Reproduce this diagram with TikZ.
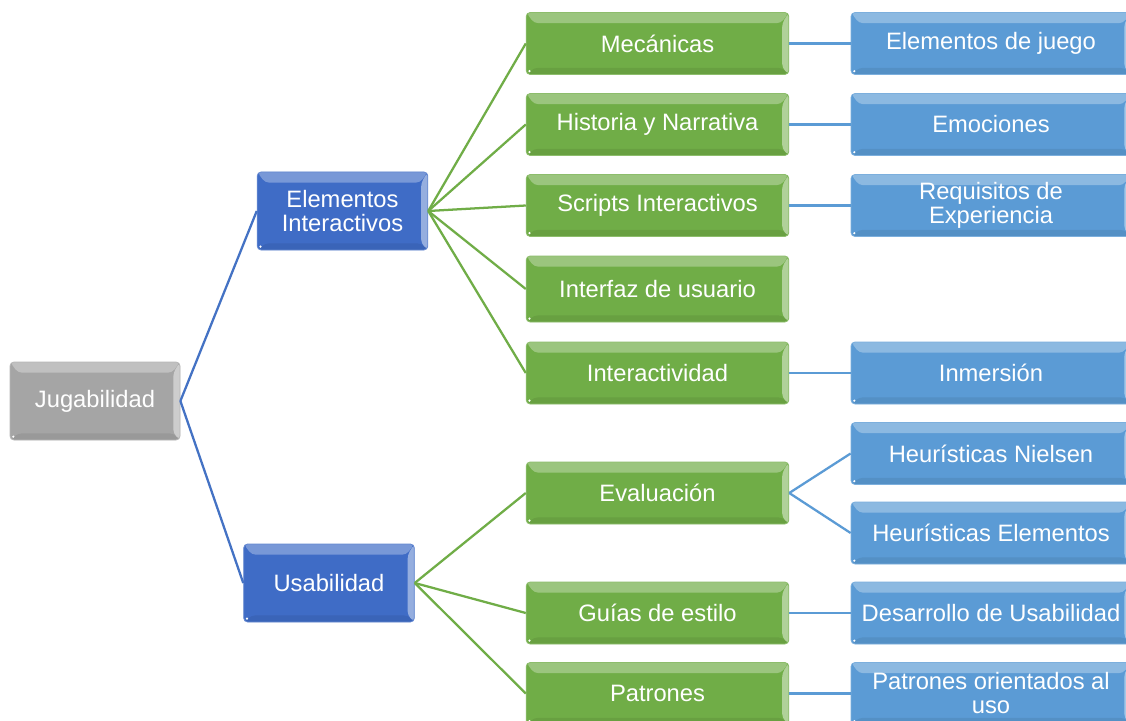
\documentclass[tikz,border=0pt]{standalone}
\usepackage{fontspec}
\setmainfont{Liberation Sans}
\begin{document}
\begin{tikzpicture}[x=0.75pt,y=-0.75pt]
\definecolor{cgray}{HTML}{A5A5A5}
\definecolor{cblue}{HTML}{3F6CC6}
\definecolor{cgreen}{HTML}{70AD47}
\definecolor{clblue}{HTML}{5B9BD5}
\definecolor{lnblue}{HTML}{4472C4}
\tikzset{
  box/.style={rounded corners=3pt, fill=#1, draw=#1!80!white, line width=0.6pt,
    text=white, align=center, font=\fontsize{17.8}{18}\selectfont,
    inner sep=0pt,
    path picture={
      \fill[white,opacity=0.3] (path picture bounding box.north west) -- (path picture bounding box.north east)
        -- ([shift={(-6pt,-8pt)}]path picture bounding box.north east) -- ([shift={(6pt,-8pt)}]path picture bounding box.north west) -- cycle;
      \fill[white,opacity=0.45] (path picture bounding box.north east) -- (path picture bounding box.south east)
        -- ([shift={(-5pt,5pt)}]path picture bounding box.south east) -- ([shift={(-5pt,-8pt)}]path picture bounding box.north east) -- cycle;
      \fill[black,opacity=0.07] (path picture bounding box.south west) -- (path picture bounding box.south east)
        -- ([shift={(-5pt,5pt)}]path picture bounding box.south east) -- ([shift={(6pt,5pt)}]path picture bounding box.south west) -- cycle;
      \fill[white] ([shift={(2.5pt,2.5pt)}]path picture bounding box.south west) circle (0.9pt);
    }},
  rootbox/.style={box=cgray, minimum width=127.5pt, minimum height=58.5pt},
  midbox/.style={box=cblue, minimum width=128pt, minimum height=58.5pt},
  greenbox/.style={box=cgreen, minimum width=197pt, minimum height=46.5pt},
  leafbox/.style={box=clblue, minimum width=210pt, minimum height=46.5pt},
  lnb/.style={draw=lnblue, line width=1.7pt},
  lng/.style={draw=cgreen, line width=1.7pt},
  lnl/.style={draw=clblue, line width=1.7pt}
}
\clip (0,0) rectangle (1126,720);
\fill[white] (0,0) rectangle (1126,720);

\node[rootbox] (jug) at (95,401) {Jugabilidad};
\node[midbox] (ei) at (342.5,211) {Elementos\\Interactivos};
\node[midbox] (usa) at (329,583) {Usabilidad};

\node[greenbox] (mec) at (657.5,43.5) {Mecánicas};
\node[greenbox] (his) at (657.5,124.5) {Historia y Narrativa};
\node[greenbox] (scr) at (657.5,205.5) {Scripts Interactivos};
\node[greenbox, minimum height=49.5pt] (inf) at (657.5,289) {Interfaz de usuario};
\node[greenbox] (int) at (657.5,373) {Interactividad};
\node[greenbox] (eva) at (657.5,493) {Evaluación};
\node[greenbox] (gui) at (657.5,613) {Guías de estilo};
\node[greenbox] (pat) at (657.5,693.5) {Patrones};

\node[leafbox] (ejg) at (991,43.5) {Elementos de juego};
\node[leafbox] (emo) at (991,124.5) {Emociones};
\node[leafbox] (req) at (991,205.5) {Requisitos de\\Experiencia};
\node[leafbox] (inm) at (991,373) {Inmersión};
\node[leafbox] (hn) at (991,453.5) {Heurísticas Nielsen};
\node[leafbox] (he) at (991,533) {Heurísticas Elementos};
\node[leafbox] (dus) at (991,613) {Desarrollo de Usabilidad};
\node[leafbox] (por) at (991,693.5) {Patrones orientados al\\uso};

\draw[lnb] (jug.east) -- (ei.west);
\draw[lnb] (jug.east) -- (usa.west);

\foreach \t in {mec,his,scr,inf,int} \draw[lng] (ei.east) -- (\t.west);
\foreach \t in {eva,gui,pat} \draw[lng] (usa.east) -- (\t.west);

\draw[lnl] (mec.east) -- (ejg.west);
\draw[lnl] (his.east) -- (emo.west);
\draw[lnl] (scr.east) -- (req.west);
\draw[lnl] (int.east) -- (inm.west);
\draw[lnl] (eva.east) -- (hn.west);
\draw[lnl] (eva.east) -- (he.west);
\draw[lnl] (gui.east) -- (dus.west);
\draw[lnl] (pat.east) -- (por.west);
\end{tikzpicture}
\end{document}
